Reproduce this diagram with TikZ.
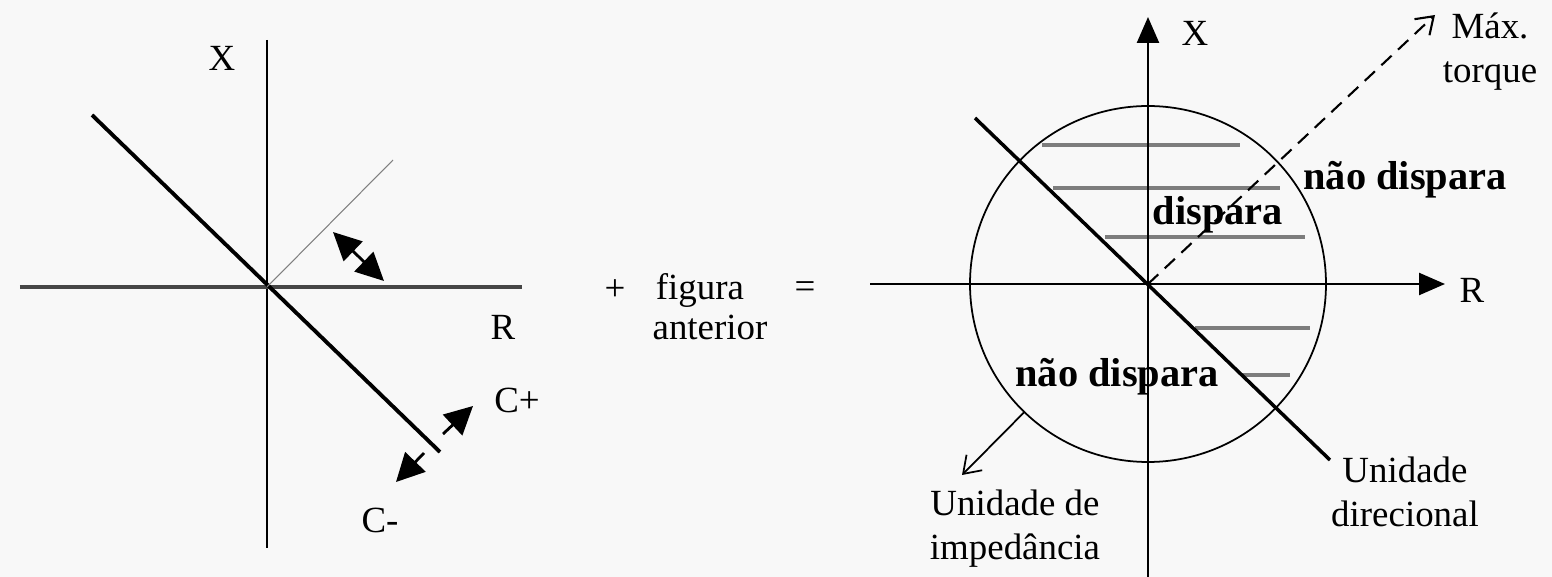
\documentclass[tikz,border=0pt]{standalone}
\usepackage{fontspec}
\setmainfont{Liberation Serif}
\usetikzlibrary{arrows.meta,calc}
\definecolor{papel}{RGB}{248,248,248}
\definecolor{eixocinza}{RGB}{70,70,70}
\definecolor{hachura}{RGB}{125,125,125}
\tikzset{
  rotulo/.style={font=\fontsize{10.5}{12.5}\selectfont},
  regiao/.style={font=\fontsize{11.5}{13}\selectfont\bfseries},
  cheia/.style={-{Triangle[length=2.6mm,width=2.2mm]}},
  grande/.style={-{Triangle[length=2.8mm,width=2.8mm]}},
  dupla/.style={{Triangle[length=2.8mm,width=2.7mm]}-{Triangle[length=2.8mm,width=2.7mm]}},
  aberta/.style={-{Straight Barb[length=1.6mm,width=2.2mm]}},
}

\begin{document}
\begin{tikzpicture}
    \fill[papel] (0,0) rectangle (15.52,5.77);
    \useasboundingbox (0,0) rectangle (15.52,5.77);
    % unidade direcional
    \coordinate (O1) at (2.67,2.90);
    \coordinate (mt1) at (3.93,4.17);
    \coordinate (ang1) at (3.33,3.45);
    \coordinate (ang2) at (3.84,2.96);
    \coordinate (cp1) at (4.43,1.43);
    \coordinate (cp2) at (4.73,1.71);
    \coordinate (cm1) at (4.24,1.24);
    \coordinate (cm2) at (3.96,0.95);
    \draw[line width=0.6pt] (2.67,5.37) -- (2.67,0.29);
    \draw[eixocinza,line width=1.2pt] (0.20,2.90) -- (5.22,2.90);
    \draw[line width=1.1pt] (0.92,4.62) -- (4.40,1.25);
    \draw[gray,line width=0.3pt] (O1) -- (mt1);
    \draw[dupla,line width=0.8pt] (ang1) -- (ang2);
    \draw[grande,line width=0.8pt] (cp1) -- (cp2);
    \draw[grande,line width=0.8pt] (cm1) -- (cm2);
    \node[rotulo] (lx) at (2.22,5.19) {X};
    \node[rotulo] (lr) at (5.03,2.50) {R};
    \node[rotulo] (lcp) at (5.17,1.77) {C+};
    \node[rotulo] (lcm) at (3.80,0.57) {C-};
    % texto central
    \node[rotulo] (mais) at (6.15,2.87) {+};
    \node[rotulo] (fig) at (7.00,2.87) {figura};
    \node[rotulo] (igual) at (8.05,2.87) {=};
    \node[rotulo] (ant) at (7.10,2.50) {anterior};
    % unidade de impedancia + direcional
    \coordinate (O2) at (11.48,2.93);
    \coordinate (mt2) at (14.35,5.62);
    \coordinate (ci) at ($(O2)+(226:1.78)$);
    \coordinate (ui) at (9.62,1.02);
    \foreach \y/\a/\b in {4.32/10.42/12.40, 3.89/10.53/12.80, 3.40/11.05/13.05, 2.49/11.95/13.10, 2.02/12.42/12.90}
        \draw[hachura,line width=0.9pt] (\a,\y) -- (\b,\y);
    \draw[line width=0.5pt] (O2) circle (1.78);
    \draw[cheia,line width=0.7pt] (11.48,0) -- (11.48,5.60);
    \draw[cheia,line width=0.7pt] (8.70,2.93) -- (14.45,2.93);
    \draw[line width=1pt] (9.75,4.59) -- (13.30,1.17);
    \draw[aberta,dash pattern=on 4pt off 2.5pt,line width=0.6pt] (O2) -- (mt2);
    \draw[aberta,line width=0.5pt] (ci) -- (ui);
    \node[rotulo] (rx) at (11.95,5.44) {X};
    \node[rotulo] (rr) at (14.72,2.87) {R};
    \node[rotulo] (torque) at (14.90,5.25) [align=center] {Máx.\\torque};
    \node[regiao] (disp) at (12.18,3.62) {dispara};
    \node[regiao] (nd1) at (14.05,3.97) {não dispara};
    \node[regiao] (nd2) at (11.17,2.00) {não dispara};
    \node[rotulo,align=center] (uimp) at (10.15,0.48) {Unidade de\\impedância};
    \node[rotulo,align=center] (udir) at (14.05,0.85) {Unidade\\direcional};
\end{tikzpicture}
\end{document}
